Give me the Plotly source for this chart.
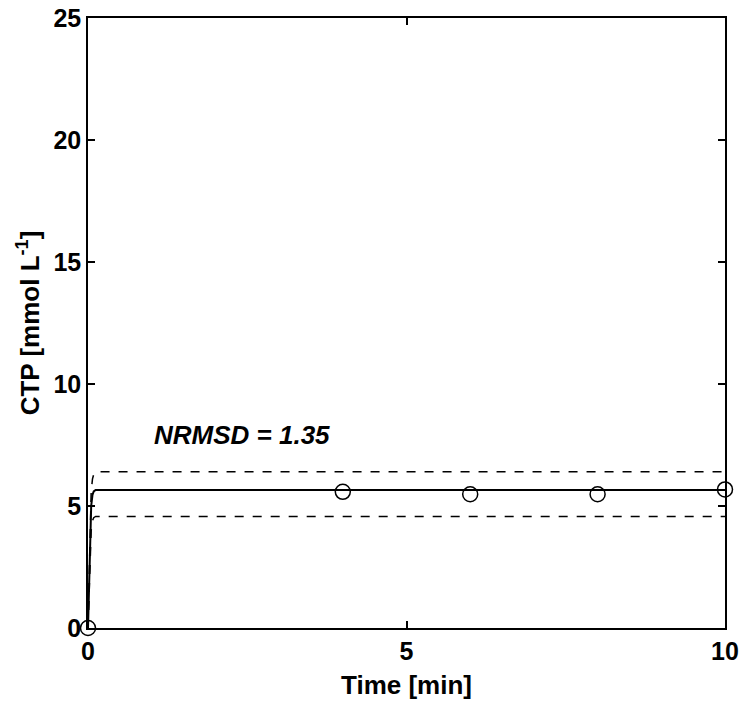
import plotly.graph_objects as go

# observed data
t_obs = [0, 4, 6, 8, 10]
ctp_obs = [0, 5.58, 5.48, 5.48, 5.68]

# model curve and bounds
t_model = [0, 0.05, 0.07, 0.09, 0.12, 10]
ctp_model = [0, 5.0, 5.45, 5.6, 5.66, 5.66]
ctp_upper = [0, 5.6, 6.1, 6.3, 6.4, 6.4]
ctp_lower = [0, 4.0, 4.4, 4.52, 4.57, 4.57]

FONT = "Liberation Sans, Arial, sans-serif"

fig = go.Figure()
fig.add_trace(go.Scatter(x=t_model, y=ctp_upper, mode="lines",
                         line=dict(color="black", width=1.5, dash="dash"),
                         showlegend=False))
fig.add_trace(go.Scatter(x=t_model, y=ctp_lower, mode="lines",
                         line=dict(color="black", width=1.5, dash="dash"),
                         showlegend=False))
fig.add_trace(go.Scatter(x=t_model, y=ctp_model, mode="lines",
                         line=dict(color="black", width=2),
                         showlegend=False))
fig.add_trace(go.Scatter(x=t_obs, y=ctp_obs, mode="markers",
                         marker=dict(symbol="circle-open", size=15, color="black",
                                     line=dict(width=1.5, color="black")),
                         showlegend=False, cliponaxis=False))

fig.add_annotation(x=1.0, y=7.9, xref="x", yref="y", text="NRMSD = 1.35",
                   showarrow=False, xanchor="left", yanchor="middle",
                   font=dict(family=FONT, size=26, color="black", weight="bold", style="italic"))

axis_common = dict(showline=True, linecolor="black", linewidth=1.5, mirror="ticks",
                   ticks="inside", ticklen=7, tickwidth=1.5, tickcolor="black",
                   showgrid=False, zeroline=False,
                   tickfont=dict(family=FONT, size=25, color="black", weight="bold"))

fig.update_xaxes(range=[0, 10], tickvals=[0, 5, 10],
                 title=dict(text="Time [min]",
                            font=dict(family=FONT, size=26, color="black", weight="bold"), standoff=12),
                 **axis_common)
fig.update_yaxes(range=[0, 25], tickvals=[0, 5, 10, 15, 20, 25],
                 title=dict(text="CTP [mmol L<sup>-1</sup>]",
                            font=dict(family=FONT, size=26, color="black", weight="bold"), standoff=6),
                 **axis_common)

fig.update_layout(width=742, height=702,
                  margin=dict(l=88, r=17, t=18, b=74, autoexpand=False),
                  paper_bgcolor="white", plot_bgcolor="white",
                  font=dict(family=FONT, color="black"))

fig.write_html("out.html")
